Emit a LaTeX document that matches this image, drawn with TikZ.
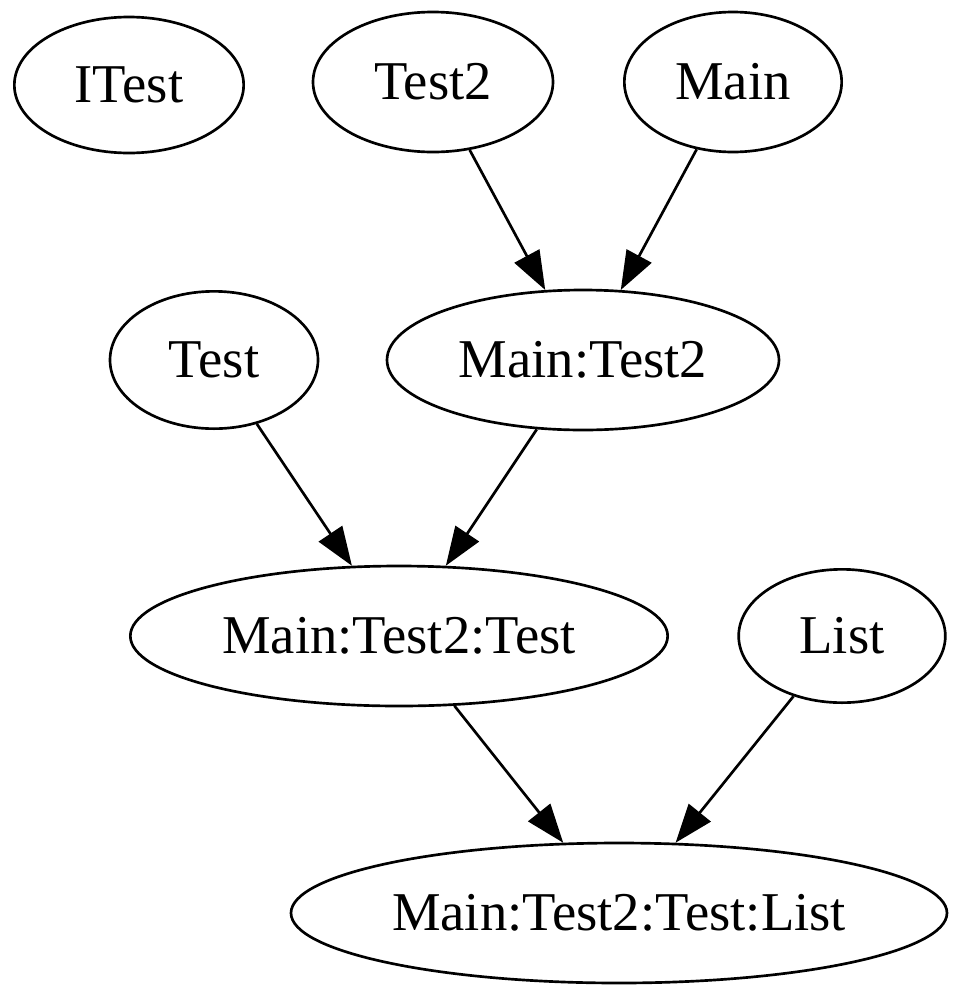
\documentclass[tikz,border=0pt]{standalone}
\usepackage{fontspec}
\setmainfont{Liberation Serif}
\usetikzlibrary{arrows.meta, positioning, shapes.geometric}

\begin{document}
\begin{tikzpicture}[x=0.75pt,y=-0.75pt,
    every node/.style={font=\fontsize{41}{49}\selectfont}]
  \tikzstyle{cls}=[ellipse,draw=black,line width=2pt,inner sep=0pt,minimum height=105pt]
  \tikzstyle{dep}=[-{Triangle[length=29pt,width=21pt]},line width=2pt]

  \useasboundingbox (0,0) rectangle (962,1000);

  \node[cls,minimum width=172pt,minimum height=102pt] (itest) at (129,85)  {ITest};
  \node[cls,minimum width=180pt] (test2)   at (433,82)  {Test2};
  \node[cls,minimum width=163pt] (main)    at (733,82)  {Main};
  \node[cls,minimum width=156pt,minimum height=103pt] (test) at (214,360) {Test};
  \node[cls,minimum width=294pt] (maint2)  at (583,360) {Main:Test2};
  \node[cls,minimum width=403pt] (maint2t) at (399,636) {Main:Test2:Test};
  \node[cls,minimum width=155pt,minimum height=100pt] (list) at (842,636) {List};
  \node[cls,minimum width=492pt] (maint2tl) at (619,913) {Main:Test2:Test:List};

  \path[dep] (test2) edge (maint2);
  \path[dep] (main) edge (maint2);
  \path[dep] (test) edge (maint2t);
  \path[dep] (maint2) edge (maint2t);
  \path[dep] (maint2t) edge (maint2tl);
  \path[dep] (list) edge (maint2tl);
\end{tikzpicture}
\end{document}
